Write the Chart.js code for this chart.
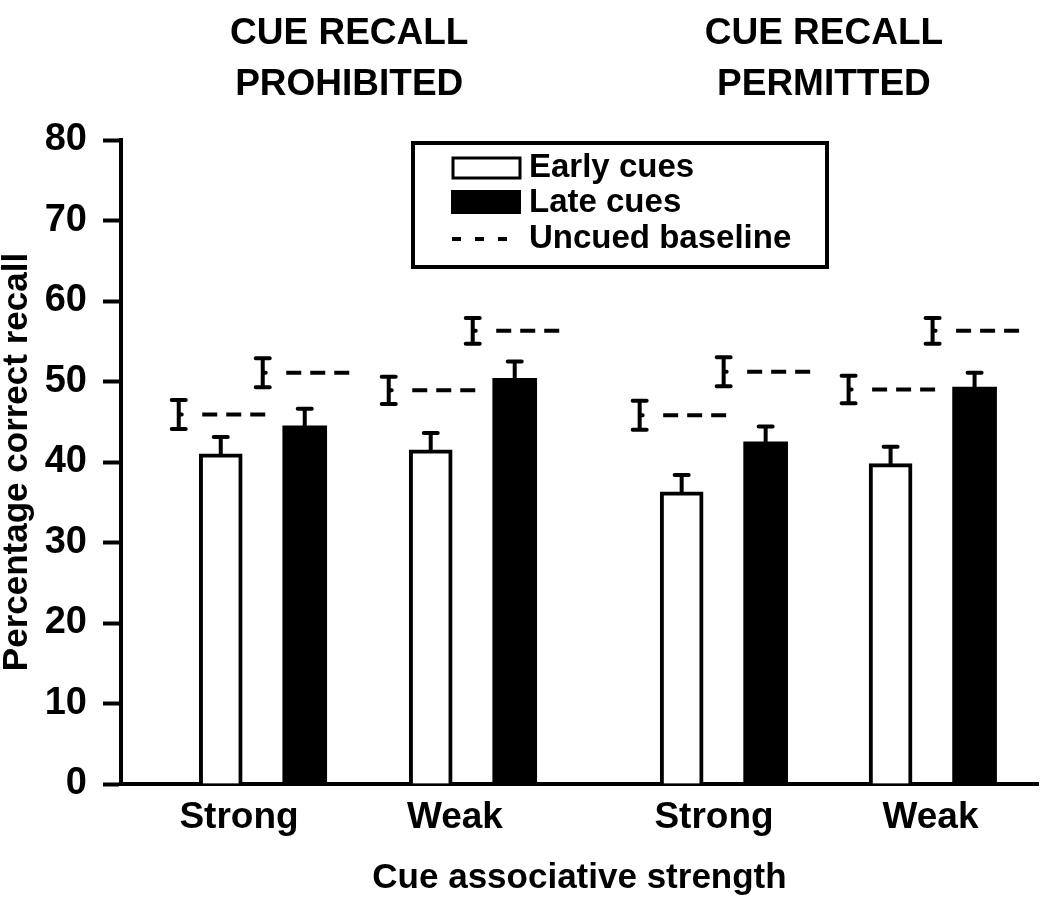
<!DOCTYPE html>
<html>
<head>
<meta charset="utf-8">
<script src="https://cdn.jsdelivr.net/npm/chart.js@4.4.0/dist/chart.umd.min.js"></script>
<style>
  html, body { margin: 0; background: #fff; }
</style>
</head>
<body>
<canvas id="myChart" width="1050" height="911"></canvas>
<script>
let categories = ["Strong", "Weak", "Strong", "Weak"]
let conditions = [["CUE RECALL", "PROHIBITED"], ["CUE RECALL", "PERMITTED"]]
let earlyCues = [41.0, 41.5, 36.3, 39.8]
let earlyErr = [2.1, 2.1, 2.1, 2.1]
let lateCues = [44.5, 50.4, 42.5, 49.3]
let lateErr = [2.1, 2.1, 1.9, 1.8]
let earlyBaseline = [45.9, 48.9, 45.8, 49.0]
let earlyBaselineErr = [1.8, 1.7, 1.8, 1.7]
let lateBaseline = [51.1, 56.3, 51.2, 56.3]
let lateBaselineErr = [1.8, 1.6, 1.8, 1.6]
let yTicks = [0, 10, 20, 30, 40, 50, 60, 70, 80]
let legendLabels = ["Early cues", "Late cues", "Uncued baseline"]

// where the four groups sit on the x scale (gap between the two conditions)
let groupX = [0.675, 1.675, 2.87, 3.865]
// the category words sit a little left of their groups in the original
let labelX = [0.562, 1.59, 2.824, 3.855]
let barOffset = 0.2
let font = "'Liberation Sans', Arial, sans-serif"

function barPoints(values, side) {
    return values.map((v, i) => ({ x: groupX[i] + side * barOffset, y: v }))
}

// short dashed segment per bar, broken by null points
function baselinePoints(values, side) {
    let pts = []
    values.forEach((v, i) => {
        let c = groupX[i] + side * barOffset
        pts.push({ x: c - 0.088, y: v })
        pts.push({ x: c + 0.235, y: v })
        pts.push({ x: c + 0.3, y: null })
    })
    return pts
}

let errorBars = {
    id: "errorBars",
    afterDatasetsDraw(chart) {
        let ctx = chart.ctx
        let xs = chart.scales.x
        let ys = chart.scales.y
        ctx.save()
        ctx.strokeStyle = "#000"
        ctx.lineWidth = 4
        ctx.lineCap = "round"
        chart.data.datasets.forEach((ds, di) => {
            let meta = chart.getDatasetMeta(di)
            if (ds.type === "bar") {
                meta.data.forEach((el, i) => {
                    let top = ys.getPixelForValue(ds.data[i].y + ds.errors[i])
                    ctx.beginPath()
                    ctx.moveTo(el.x, el.y)
                    ctx.lineTo(el.x, top)
                    ctx.moveTo(el.x - 7, top)
                    ctx.lineTo(el.x + 7, top)
                    ctx.stroke()
                })
            } else if (ds.errors) {
                ds.errors.forEach((e, i) => {
                    let v = ds.baseValues[i]
                    let x = xs.getPixelForValue(groupX[i] + ds.side * barOffset - 0.2)
                    let y1 = ys.getPixelForValue(v + e)
                    let y2 = ys.getPixelForValue(v - e)
                    let ym = ys.getPixelForValue(v)
                    ctx.beginPath()
                    ctx.moveTo(x, y1)
                    ctx.lineTo(x, y2)
                    ctx.moveTo(x - 7, y1)
                    ctx.lineTo(x + 7, y1)
                    ctx.moveTo(x - 7, y2)
                    ctx.lineTo(x + 7, y2)
                    ctx.moveTo(x, ym)
                    ctx.lineTo(x + 3, ym)
                    ctx.stroke()
                })
            }
        })
        ctx.restore()
    }
}

let headings = {
    id: "headings",
    afterDraw(chart) {
        let ctx = chart.ctx
        let xs = chart.scales.x
        ctx.save()
        ctx.fillStyle = "#000"
        ctx.font = "bold 37px " + font
        ctx.textAlign = "center"
        ctx.textBaseline = "middle"
        let shift = [-0.088, -0.02]
        conditions.forEach((lines, k) => {
            let mid = (groupX[k * 2] + groupX[k * 2 + 1]) / 2 + shift[k]
            let x = xs.getPixelForValue(mid)
            ctx.fillText(lines[0], x, 34)
            ctx.fillText(lines[1], x, 85)
        })

        // legend box
        let a = chart.chartArea
        let bx = a.left + 292, by = 143
        ctx.lineWidth = 4
        ctx.strokeStyle = "#000"
        ctx.strokeRect(bx, by, 414, 124)
        ctx.lineWidth = 3
        ctx.fillStyle = "#fff"
        ctx.fillRect(bx + 40, by + 15, 67, 20)
        ctx.strokeRect(bx + 40, by + 15, 67, 20)
        ctx.fillStyle = "#000"
        ctx.fillRect(bx + 38, by + 47, 70, 24)
        ctx.lineWidth = 4
        ctx.beginPath()
        ;[0, 23, 46].forEach(d => {
            ctx.moveTo(bx + 39 + d, by + 96)
            ctx.lineTo(bx + 48 + d, by + 96)
        })
        ctx.stroke()
        ctx.font = "bold 33px " + font
        ctx.textAlign = "left"
        ctx.textBaseline = "middle"
        ctx.fillText(legendLabels[0], bx + 116, by + 25)
        ctx.fillText(legendLabels[1], bx + 116, by + 60)
        ctx.fillText(legendLabels[2], bx + 116, by + 96)
        ctx.restore()
    }
}

let ctx = document.getElementById("myChart").getContext("2d")

let myChart = new Chart(ctx, {
    type: "bar",
    data: {
        datasets: [
            {
                type: "bar",
                label: legendLabels[0],
                data: barPoints(earlyCues, -1),
                errors: earlyErr,
                backgroundColor: "#ffffff",
                borderColor: "#000000",
                borderWidth: 4,
                barThickness: 43,
                grouped: false,
            },
            {
                type: "bar",
                label: legendLabels[1],
                data: barPoints(lateCues, 1),
                errors: lateErr,
                backgroundColor: "#000000",
                borderColor: "#000000",
                borderWidth: 0,
                barThickness: 44,
                grouped: false,
            },
            {
                type: "line",
                label: legendLabels[2],
                data: baselinePoints(earlyBaseline, -1),
                baseValues: earlyBaseline,
                errors: earlyBaselineErr,
                side: -1,
                borderColor: "#000000",
                borderWidth: 4,
                borderDash: [15, 9],
                pointRadius: 0,
                spanGaps: false,
            },
            {
                type: "line",
                label: legendLabels[2],
                data: baselinePoints(lateBaseline, 1),
                baseValues: lateBaseline,
                errors: lateBaselineErr,
                side: 1,
                borderColor: "#000000",
                borderWidth: 4,
                borderDash: [15, 9],
                pointRadius: 0,
                spanGaps: false,
            },
        ],
    },
    options: {
        responsive: false,
        animation: false,
        layout: { padding: { top: 140, right: 12, left: 0, bottom: 0 } },
        plugins: {
            legend: { display: false },
            tooltip: { enabled: false },
        },
        scales: {
            x: {
                type: "linear",
                offset: false,
                min: 0,
                max: 4.367,
                grid: { display: false, drawTicks: false, offset: false },
                border: { display: true, color: "#000", width: 4 },
                afterBuildTicks: (axis) => {
                    axis.ticks = labelX.map(v => ({ value: v }))
                },
                afterFit: (scale) => { scale.height = 127 },
                ticks: {
                    autoSkip: false,
                    maxRotation: 0,
                    padding: 12,
                    color: "#000",
                    font: { family: font, size: 37, weight: "bold" },
                    callback: (value) => categories[labelX.indexOf(value)],
                },
                title: {
                    display: true,
                    text: "Cue associative strength",
                    color: "#000",
                    font: { family: font, size: 35, weight: "bold" },
                    padding: { top: 0, bottom: 12 },
                },
            },
            y: {
                min: 0,
                max: 80,
                afterBuildTicks: (axis) => {
                    axis.ticks = yTicks.map(v => ({ value: v }))
                },
                afterFit: (scale) => { scale.width = 121 },
                grid: {
                    drawOnChartArea: false,
                    color: "#000",
                    tickLength: 18,
                    tickWidth: 4,
                },
                border: { display: true, color: "#000", width: 4 },
                ticks: {
                    padding: 16,
                    color: "#000",
                    font: { family: font, size: 38, weight: "bold" },
                },
                title: {
                    display: true,
                    text: "Percentage correct recall",
                    color: "#000",
                    font: { family: font, size: 35, weight: "bold", lineHeight: 1.0 },
                    padding: 0,
                },
            },
        },
    },
    plugins: [errorBars, headings],
})
</script>
</body>
</html>
